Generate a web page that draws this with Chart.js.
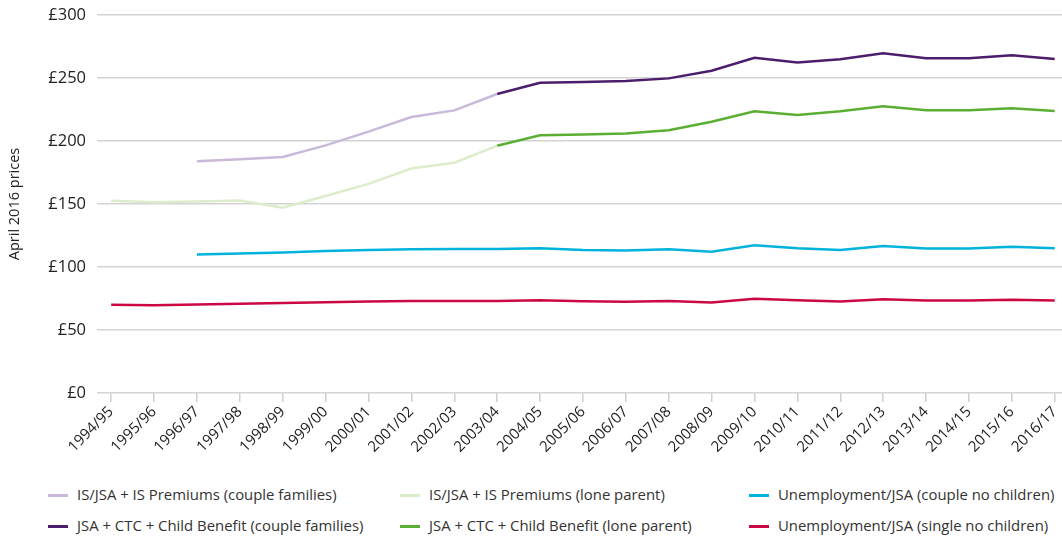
<!DOCTYPE html>
<html>
<head>
<meta charset="utf-8">
<script src="https://cdn.jsdelivr.net/npm/chart.js@4.4.1/dist/chart.umd.min.js"></script>
<style>
  body { margin: 0; background: #fff; font-family: "Open Sans", sans-serif; }
  #wrap { position: relative; width: 1062px; height: 542px; }
  #legend { position: absolute; left: 0; top: 484px; width: 1062px; }
  .item { position: absolute; font-size: 14.9px; color: #333; white-space: nowrap; }
  .item span.sw { position: absolute; left: 0; top: 10px; width: 20px; height: 3px; }
  .item span.tx { position: absolute; left: 29px; top: 0; }
</style>
</head>
<body>
<div id="wrap">
  <canvas id="chart" width="1062" height="478"></canvas>
  <div id="legend"></div>
</div>
<script>
const years = ['1994/95','1995/96','1996/97','1997/98','1998/99','1999/00','2000/01','2001/02','2002/03','2003/04','2004/05','2005/06','2006/07','2007/08','2008/09','2009/10','2010/11','2011/12','2012/13','2013/14','2014/15','2015/16','2016/17'];

// null = no value for that year
const isCouple    = [null, null, 184, 185.5, 187.3, 196.5, 207.4, 219, 224.3, 237.3, null, null, null, null, null, null, null, null, null, null, null, null, null];
const isLone      = [152.5, 151.3, 152, 152.8, 147, 156.3, 166, 178.2, 182.8, 196.2, null, null, null, null, null, null, null, null, null, null, null, null, null];
const unempCouple = [null, null, 110, 110.8, 111.6, 112.7, 113.5, 114, 114.3, 114.3, 114.8, 113.5, 113, 114, 112.2, 117.2, 114.8, 113.5, 116.7, 114.6, 114.6, 116, 114.8];
const jsaCouple   = [null, null, null, null, null, null, null, null, null, 237.3, 246.2, 246.8, 247.6, 249.7, 255.8, 266, 262.4, 264.8, 269.6, 265.6, 265.6, 268, 265];
const jsaLone     = [null, null, null, null, null, null, null, null, null, 196.2, 204.6, 205.2, 206, 208.6, 215.3, 223.6, 220.7, 223.7, 227.6, 224.5, 224.5, 226, 223.8];
const unempSingle = [70, 69.6, 70.3, 70.9, 71.4, 72, 72.6, 73, 73.1, 73.1, 73.6, 72.8, 72.4, 73.1, 71.9, 74.8, 73.6, 72.7, 74.4, 73.5, 73.5, 74.1, 73.4];

const yTicks = [0, 50, 100, 150, 200, 250, 300];

function pts(arr) {
  return arr.map((v, i) => ({ x: i, y: v }));
}

const series = [
  { label: 'IS/JSA + IS Premiums (couple families)', data: isCouple, color: '#c9b9da' },
  { label: 'IS/JSA + IS Premiums (lone parent)', data: isLone, color: '#ddecca' },
  { label: 'Unemployment/JSA (couple no children)', data: unempCouple, color: '#00b3dc' },
  { label: 'JSA + CTC + Child Benefit (couple families)', data: jsaCouple, color: '#4c1d6c' },
  { label: 'JSA + CTC + Child Benefit (lone parent)', data: jsaLone, color: '#5aaf32' },
  { label: 'Unemployment/JSA (single no children)', data: unempSingle, color: '#cc0844' }
];

const fontFam = '"Open Sans", sans-serif';

const chart = new Chart(document.getElementById('chart'), {
  type: 'line',
  data: {
    datasets: series.map(s => ({
      label: s.label,
      data: pts(s.data),
      borderColor: s.color,
      backgroundColor: s.color,
      borderWidth: 2.5,
      pointRadius: 0,
      tension: 0,
      spanGaps: false
    }))
  },
  options: {
    responsive: false,
    animation: false,
    layout: { padding: { top: 15, right: 0, left: 6, bottom: 0 } },
    plugins: {
      legend: { display: false },
      tooltip: { enabled: false }
    },
    scales: {
      x: {
        type: 'linear',
        min: -0.33,
        max: 22.17,
        afterBuildTicks: (scale) => {
          scale.ticks = years.map((y, i) => ({ value: i }));
        },
        afterFit: (scale) => {
          scale.height = 478 - 393;
          scale.paddingLeft = 0;
          scale.paddingRight = 0;
        },
        ticks: {
          autoSkip: false,
          maxRotation: 45,
          minRotation: 45,
          color: '#222',
          padding: 1,
          font: { family: fontFam, size: 15 },
          callback: (v) => years[v]
        },
        grid: {
          drawOnChartArea: false,
          color: '#cfcfcf',
          lineWidth: 1.5,
          tickLength: 9
        },
        border: { display: false }
      },
      y: {
        min: 0,
        max: 300,
        afterBuildTicks: (scale) => {
          scale.ticks = yTicks.map(v => ({ value: v }));
        },
        afterFit: (scale) => {
          scale.width = 91;
          scale.paddingTop = 0;
          scale.paddingBottom = 0;
        },
        ticks: {
          color: '#222',
          padding: 11,
          font: { family: fontFam, size: 16.5 },
          callback: (v) => '£' + v
        },
        grid: {
          color: '#d4d4d4',
          lineWidth: 1.5,
          drawTicks: false
        },
        border: { display: false },
        title: {
          display: true,
          text: 'April 2016 prices',
          color: '#222',
          padding: 0,
          font: { family: fontFam, size: 14.5 }
        }
      }
    }
  }
});

// legend laid out in three columns like the original
const legendCols = [48, 400, 749];
const legendRows = [0, 31];
const legendEl = document.getElementById('legend');
series.forEach((s, i) => {
  const d = document.createElement('div');
  d.className = 'item';
  d.style.left = legendCols[i % 3] + 'px';
  d.style.top = legendRows[Math.floor(i / 3)] + 'px';
  d.innerHTML = '<span class="sw" style="background:' + s.color + '"></span><span class="tx">' + s.label + '</span>';
  legendEl.appendChild(d);
});
</script>
</body>
</html>
